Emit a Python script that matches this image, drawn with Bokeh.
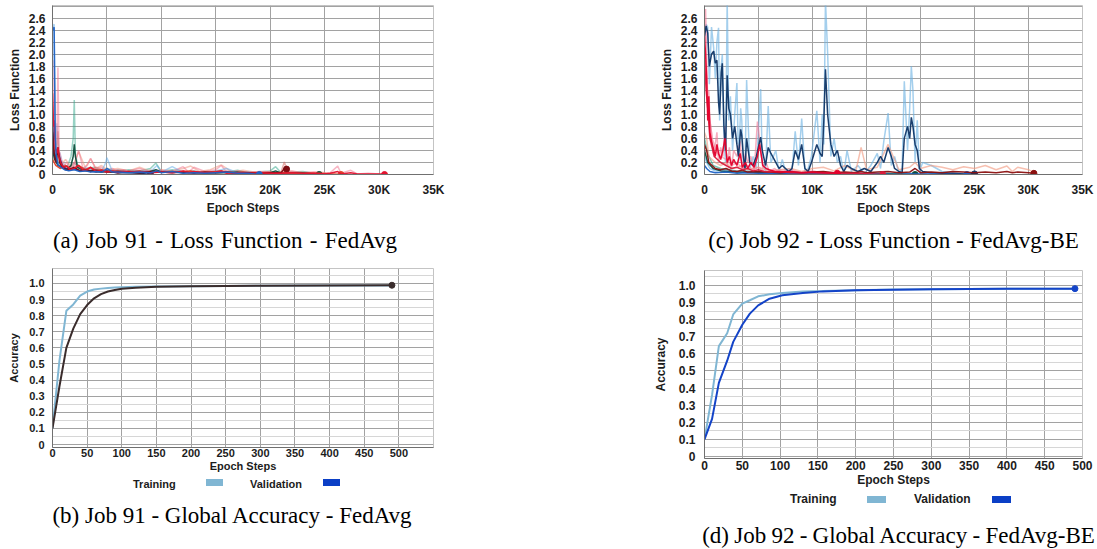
from bokeh.plotting import figure
from bokeh.layouts import row, column
from bokeh.models import Div, Spacer, Range1d, FixedTicker, CustomJSTickFormatter
from bokeh.embed import file_html
from bokeh.resources import INLINE

SANS = "Liberation Sans"
SERIF = "Liberation Serif"

# ---------------- tick labels ----------------
LOSS_X_TICKS = [0, 5000, 10000, 15000, 20000, 25000, 30000, 35000]
LOSS_Y_TICKS = [0, 0.2, 0.4, 0.6, 0.8, 1.0, 1.2, 1.4, 1.6, 1.8, 2.0, 2.2, 2.4, 2.6]
LOSS_Y_GRID = LOSS_Y_TICKS + [2.8]
ACC_X_TICKS = [0, 50, 100, 150, 200, 250, 300, 350, 400, 450, 500]
ACC_X_GRID_B = ACC_X_TICKS + [550]
ACC_Y_TICKS = [0, 0.1, 0.2, 0.3, 0.4, 0.5, 0.6, 0.7, 0.8, 0.9, 1.0]
ACC_Y_MINOR = [0.05, 0.15, 0.25, 0.35, 0.45, 0.55, 0.65, 0.75, 0.85, 0.95, 1.05]

# ---------------- Job 91 loss (panel a) ----------------
A_RED_STEPS = [0, 100, 150, 250, 400, 500, 600, 800, 1000, 1300, 1600, 2000, 2400, 2800, 3200, 3500, 4000, 4500, 5000, 5500,
               6000, 6500, 7000, 8000, 9000, 10000, 11000, 12000, 12500, 13000, 14000, 15000, 15500, 16000, 17000, 18000,
               19000, 20000, 21000, 22000, 23000, 24000, 25000, 25500, 26200, 26500, 27400, 28000, 29000, 30000, 30500]
A_RED_RAW = [1.40, 1.00, 1.90, 0.60, 0.50, 1.78, 0.40, 0.25, 0.15, 0.20, 0.10, 0.15, 0.40, 0.10, 0.15, 0.27, 0.08, 0.12, 0.06, 0.10,
             0.05, 0.08, 0.06, 0.10, 0.04, 0.07, 0.05, 0.13, 0.04, 0.12, 0.05, 0.08, 0.15, 0.04, 0.06, 0.03, 0.05, 0.04, 0.03, 0.06,
             0.03, 0.04, 0.02, 0.03, 0.14, 0.02, 0.07, 0.01, 0.02, 0.01, 0.00]
A_RED_SMOOTH = [1.35, 0.80, 0.90, 0.45, 0.35, 0.45, 0.30, 0.18, 0.12, 0.14, 0.08, 0.10, 0.15, 0.07, 0.08, 0.12, 0.05, 0.07, 0.04, 0.06,
                0.03, 0.05, 0.04, 0.05, 0.03, 0.04, 0.03, 0.06, 0.03, 0.05, 0.03, 0.04, 0.06, 0.02, 0.03, 0.02, 0.03, 0.02, 0.02, 0.03,
                0.02, 0.02, 0.01, 0.02, 0.05, 0.01, 0.03, 0.01, 0.01, 0.01, 0.00]

A_BLUE_STEPS = [0, 150, 250, 350, 500, 800, 1100, 1500, 2000, 2500, 3000, 3500, 4000, 4500, 4900, 5000, 5500, 6000, 7000, 8000,
                9000, 9600, 10000, 11000, 12000, 13000, 14000, 15000, 16000, 17000, 18000, 19000]
A_BLUE_RAW = [2.45, 2.50, 0.80, 0.35, 0.20, 0.15, 0.10, 0.08, 0.12, 0.06, 0.10, 0.05, 0.08, 0.05, 0.20, 0.28, 0.05, 0.07, 0.04, 0.06,
              0.05, 0.15, 0.04, 0.13, 0.03, 0.05, 0.03, 0.06, 0.10, 0.03, 0.04, 0.00]
A_BLUE_SMOOTH = [2.40, 2.45, 0.60, 0.30, 0.16, 0.12, 0.08, 0.06, 0.08, 0.05, 0.06, 0.04, 0.05, 0.04, 0.08, 0.10, 0.04, 0.04, 0.03, 0.04,
                 0.03, 0.06, 0.03, 0.05, 0.02, 0.03, 0.02, 0.03, 0.04, 0.02, 0.02, 0.00]

A_NAVY_STEPS = [0, 100, 250, 400, 550, 700, 900, 1200, 1500, 2000, 2500, 3000, 4000, 5000, 6000, 7000, 8000, 9000]
A_NAVY_RAW = [1.00, 0.60, 0.30, 0.85, 0.40, 0.35, 0.20, 0.15, 0.10, 0.20, 0.08, 0.12, 0.06, 0.08, 0.05, 0.04, 0.03, 0.00]
A_NAVY_SMOOTH = [0.90, 0.40, 0.25, 0.38, 0.36, 0.25, 0.15, 0.10, 0.07, 0.10, 0.06, 0.07, 0.04, 0.05, 0.03, 0.03, 0.02, 0.00]

A_TEAL_STEPS = [0, 200, 500, 900, 1300, 1700, 1900, 2000, 2100, 2300, 2700, 3200, 3800, 4500, 5000, 6000, 7000, 8000, 9000, 9500,
                10000, 11000, 12000, 13000, 14000, 15000, 16000, 17000, 18000, 19000, 20000, 20500, 21000, 22000, 23000, 24000, 24500]
A_TEAL_RAW = [0.50, 0.30, 0.20, 0.15, 0.10, 0.30, 0.60, 1.24, 0.35, 0.15, 0.10, 0.08, 0.12, 0.06, 0.10, 0.05, 0.08, 0.06, 0.10, 0.19,
              0.05, 0.08, 0.04, 0.06, 0.03, 0.05, 0.04, 0.07, 0.03, 0.04, 0.06, 0.13, 0.03, 0.04, 0.05, 0.02, 0.00]
A_TEAL_SMOOTH = [0.40, 0.25, 0.15, 0.12, 0.08, 0.15, 0.30, 0.50, 0.30, 0.12, 0.08, 0.06, 0.07, 0.04, 0.06, 0.03, 0.05, 0.04, 0.05, 0.08,
                 0.04, 0.05, 0.03, 0.04, 0.02, 0.03, 0.03, 0.04, 0.02, 0.03, 0.03, 0.06, 0.02, 0.03, 0.03, 0.01, 0.00]

A_DARKRED_STEPS = [0, 150, 350, 500, 650, 900, 1200, 1600, 2000, 2500, 3000, 3500, 4000, 5000, 6000, 7000, 8000, 9000, 10000, 11000,
                   12000, 13000, 14000, 15000, 16000, 17000, 18000, 19000, 20000, 21000, 21300, 21500]
A_DARKRED_RAW = [0.80, 0.40, 0.25, 0.72, 0.20, 0.15, 0.10, 0.12, 0.20, 0.08, 0.10, 0.06, 0.12, 0.05, 0.08, 0.06, 0.04, 0.07, 0.05, 0.04,
                 0.06, 0.03, 0.05, 0.04, 0.06, 0.03, 0.04, 0.03, 0.05, 0.04, 0.21, 0.09]
A_DARKRED_SMOOTH = [0.70, 0.35, 0.20, 0.45, 0.20, 0.12, 0.08, 0.09, 0.12, 0.06, 0.07, 0.05, 0.07, 0.04, 0.05, 0.04, 0.03, 0.05, 0.04, 0.03,
                    0.04, 0.02, 0.04, 0.03, 0.04, 0.02, 0.03, 0.02, 0.03, 0.03, 0.10, 0.09]

A_SALMON_STEPS = [0, 300, 700, 1200, 1800, 2400, 3000, 3500, 4000, 4500, 5000, 6000, 7000, 8000, 9000, 10000, 11000, 12000, 12700, 13500,
                  14500, 15500, 16500, 17500, 18500, 19500, 20500, 21500, 22500, 23500, 24500, 25500, 26500]
A_SALMON_RAW = [0.30, 0.20, 0.15, 0.25, 0.10, 0.38, 0.12, 0.26, 0.10, 0.15, 0.08, 0.10, 0.06, 0.12, 0.05, 0.08, 0.06, 0.10, 0.14, 0.05,
                0.08, 0.16, 0.04, 0.07, 0.04, 0.05, 0.03, 0.06, 0.04, 0.03, 0.04, 0.02, 0.00]
A_SALMON_SMOOTH = [0.25, 0.15, 0.10, 0.15, 0.08, 0.15, 0.08, 0.12, 0.07, 0.08, 0.05, 0.06, 0.04, 0.06, 0.03, 0.05, 0.04, 0.05, 0.06, 0.03,
                   0.04, 0.06, 0.02, 0.04, 0.02, 0.03, 0.02, 0.03, 0.02, 0.02, 0.02, 0.01, 0.00]

# ---------------- Job 92 loss (panel c) ----------------
C_NAVY_STEPS = [0, 150, 300, 450, 650, 850, 1000, 1150, 1300, 1400, 1550, 1650, 1800, 1950, 2100, 2250, 2400, 2600, 2800, 3000,
                3150, 3350, 3450, 3600, 3750, 3900, 4200, 4500, 4800, 5200, 5350, 5650, 5900, 6150, 6600, 6900, 7200, 7500, 7800, 8100,
                8400, 8700, 9000, 9300, 9600, 9900, 10400, 10700, 10900, 11050, 11200, 11400, 11700, 12000, 12300, 12600, 12900, 13200,
                13600, 14200, 14800, 15400, 16000, 16300, 16600, 17000, 17300, 17600, 18000, 18300, 18500, 18800, 19000, 19150, 19300,
                19500, 19700, 19900, 20200, 21000, 22000, 23000, 24000, 25000]
C_NAVY_SMOOTH = [2.30, 2.47, 2.35, 1.80, 2.00, 2.05, 1.85, 1.90, 1.20, 1.00, 1.70, 1.85, 0.80, 0.40, 1.65, 1.10, 1.00, 0.60, 0.80, 0.50,
                 0.30, 0.75, 0.65, 0.30, 0.10, 0.60, 0.20, 0.15, 0.30, 0.62, 0.40, 0.15, 0.45, 0.35, 0.20, 0.10, 0.15, 0.10, 0.05, 0.10,
                 0.40, 0.25, 0.50, 0.10, 0.05, 0.20, 0.50, 0.35, 0.30, 0.90, 1.75, 1.00, 0.50, 0.30, 0.40, 0.15, 0.05, 0.15, 0.10, 0.05,
                 0.10, 0.05, 0.20, 0.30, 0.20, 0.45, 0.30, 0.10, 0.05, 0.03, 0.60, 0.80, 0.60, 0.95, 0.80, 0.50, 0.40, 0.10, 0.05, 0.03,
                 0.02, 0.02, 0.01, 0.01]
C_NAVY_RAW = [2.20, 2.50, 2.45, 1.50, 2.45, 2.10, 1.60, 2.20, 2.44, 0.90, 1.80, 2.00, 0.60, 0.20, 2.90, 0.90, 1.30, 0.40, 1.00, 1.52,
              0.20, 1.10, 0.90, 0.15, 0.05, 1.57, 0.10, 0.30, 0.10, 1.42, 0.20, 0.05, 1.14, 0.20, 0.40, 0.05, 0.25, 0.05, 0.10, 0.05,
              0.72, 0.15, 0.93, 0.05, 0.10, 0.30, 1.06, 0.20, 1.00, 0.50, 2.90, 2.03, 0.30, 0.60, 0.20, 0.30, 0.02, 0.40, 0.05, 0.15,
              0.02, 0.15, 0.35, 0.10, 0.55, 1.02, 0.15, 0.30, 0.02, 0.10, 1.55, 0.40, 1.10, 1.80, 1.40, 0.20, 0.90, 0.05, 0.20, 0.15,
              0.05, 0.03, 0.02, 0.01]

C_CRIMSON_STEPS = [0, 100, 200, 300, 400, 500, 650, 800, 1000, 1150, 1300, 1500, 1700, 1900, 2100, 2300, 2500, 2700, 3000, 3300,
                   3500, 3800, 4000, 4300, 4600, 4900, 5100, 5400, 5700, 6000, 6500, 7000, 8000, 9000, 10000, 11000, 12300]
C_CRIMSON_SMOOTH = [2.30, 2.00, 1.60, 0.90, 1.30, 0.70, 0.55, 0.45, 0.30, 0.50, 0.35, 0.25, 0.40, 0.60, 0.20, 0.30, 0.15, 0.25, 0.15, 0.35,
                    0.12, 0.20, 0.10, 0.20, 0.12, 0.30, 0.50, 0.15, 0.10, 0.08, 0.05, 0.04, 0.05, 0.03, 0.04, 0.03, 0.02]
C_CRIMSON_RAW = [2.20, 2.75, 1.90, 1.20, 1.40, 0.90, 0.70, 0.35, 0.50, 0.70, 0.20, 0.45, 0.30, 0.80, 0.15, 0.45, 0.10, 0.40, 0.30, 0.55,
                 0.08, 0.35, 0.20, 0.30, 0.05, 0.88, 0.60, 0.10, 0.20, 0.05, 0.10, 0.02, 0.08, 0.02, 0.06, 0.02, 0.01]

C_RED_STEPS = [0, 150, 300, 500, 700, 900, 1200, 1500, 2000, 2500, 3000, 3500, 4000, 4500, 5000, 5500, 6000, 7000, 8000, 10000,
               12000, 14000, 16500]
C_RED_SMOOTH = [1.90, 1.40, 1.10, 0.60, 0.45, 0.30, 0.25, 0.20, 0.15, 0.10, 0.12, 0.08, 0.10, 0.06, 0.08, 0.05, 0.04, 0.05, 0.03, 0.03,
                0.02, 0.02, 0.00]
C_RED_RAW = [2.00, 1.70, 1.30, 0.90, 0.60, 0.50, 0.35, 0.30, 0.25, 0.15, 0.20, 0.10, 0.15, 0.08, 0.12, 0.06, 0.05, 0.08, 0.04, 0.05,
             0.03, 0.03, 0.00]

C_DARKRED_STEPS = [0, 200, 400, 700, 1000, 1500, 2000, 2500, 3000, 3500, 4000, 5000, 6000, 7000, 8000, 9000, 10000, 11000, 12000, 13000,
                   14000, 14500, 15000, 16000, 17000, 18000, 19000, 19500, 20000, 21000, 22000, 23000, 24000, 25000, 26000, 27000,
                   28000, 28500, 29000, 30000, 30500]
C_DARKRED_SMOOTH = [0.50, 0.40, 0.20, 0.15, 0.10, 0.08, 0.10, 0.06, 0.05, 0.07, 0.04, 0.05, 0.04, 0.03, 0.04, 0.03, 0.04, 0.05, 0.03, 0.04,
                    0.03, 0.05, 0.03, 0.04, 0.05, 0.03, 0.04, 0.10, 0.03, 0.04, 0.03, 0.05, 0.04, 0.03, 0.04, 0.03, 0.05, 0.03, 0.04,
                    0.03, 0.02]
C_DARKRED_RAW = [0.70, 0.60, 0.30, 0.25, 0.20, 0.15, 0.20, 0.10, 0.12, 0.15, 0.08, 0.12, 0.06, 0.08, 0.10, 0.05, 0.10, 0.12, 0.06, 0.15,
                 0.05, 0.45, 0.08, 0.12, 0.50, 0.08, 0.12, 0.20, 0.10, 0.15, 0.12, 0.08, 0.13, 0.10, 0.15, 0.08, 0.14, 0.05, 0.12,
                 0.08, 0.03]

C_BLUE_STEPS = [0, 200, 500, 1000, 2000, 3000, 4000, 5000, 6000, 7000, 8000, 10000, 12000, 14000, 16000, 17400, 19000, 21000, 23000, 24300]
C_BLUE_SMOOTH = [0.15, 0.10, 0.05, 0.03, 0.04, 0.02, 0.03, 0.02, 0.02, 0.01, 0.02, 0.01, 0.02, 0.01, 0.01, 0.00, 0.01, 0.01, 0.00, 0.00]
C_BLUE_RAW = [0.30, 0.20, 0.10, 0.06, 0.08, 0.04, 0.05, 0.04, 0.03, 0.02, 0.04, 0.02, 0.03, 0.02, 0.02, 0.01, 0.02, 0.02, 0.01, 0.00]

C_TEAL_STEPS = [0, 300, 800, 1500, 3000, 5000, 8000, 11000, 14000, 17000, 19500]
C_TEAL_SMOOTH = [0.40, 0.20, 0.10, 0.06, 0.04, 0.03, 0.02, 0.02, 0.01, 0.01, 0.00]
C_TEAL_RAW = [0.60, 0.35, 0.15, 0.10, 0.06, 0.05, 0.03, 0.03, 0.02, 0.02, 0.00]

# ---------------- Global accuracy ----------------
B_STEPS = [0, 10, 20, 30, 40, 50, 60, 70, 80, 90, 100, 120, 150, 200, 250, 300, 400, 490]
B_TRAIN = [0.10, 0.52, 0.83, 0.87, 0.925, 0.95, 0.963, 0.968, 0.972, 0.975, 0.977, 0.979, 0.981, 0.983, 0.985, 0.986, 0.987, 0.988]
B_VALID = [0.10, 0.36, 0.60, 0.72, 0.81, 0.866, 0.908, 0.934, 0.95, 0.96, 0.967, 0.974, 0.979, 0.982, 0.984, 0.986, 0.988, 0.989]

D_STEPS = [0, 5, 10, 19, 30, 38, 50, 60, 71, 86, 103, 130, 156, 200, 250, 300, 400, 490]
D_TRAIN = [0.10, 0.23, 0.36, 0.645, 0.72, 0.83, 0.893, 0.913, 0.936, 0.948, 0.955, 0.965, 0.967, 0.972, 0.976, 0.978, 0.980, 0.981]
D_VALID = [0.10, 0.16, 0.22, 0.43, 0.56, 0.67, 0.77, 0.835, 0.883, 0.922, 0.942, 0.955, 0.965, 0.971, 0.975, 0.978, 0.980, 0.981]

CAPTIONS = ["(a) Job 91 - Loss Function - FedAvg",
            "(b) Job 91 - Global Accuracy - FedAvg",
            "(c) Job 92 - Loss Function - FedAvg-BE",
            "(d) Job 92 - Global Accuracy - FedAvg-BE"]
LEGEND_LABELS = ["Training", "Validation"]

TRAIN_COLOR = "#80b6d3"
VALID_COLOR = "#0b3fc6"

k_fmt = CustomJSTickFormatter(code="return Math.abs(tick) < 1e-9 ? '0' : Math.round(tick/1000) + 'K';")
d_fmt = CustomJSTickFormatter(code="return Math.abs(tick) < 1e-9 ? '0' : tick.toFixed(1);")
i_fmt = CustomJSTickFormatter(code="return Math.round(tick).toString();")


def make_fig(width, height, xr, yr, bl, br, bt, bb, fpx, xstand, xlstand, ystand, ylstand, xlabel, ylabel):
    p = figure(width=width, height=height, x_range=Range1d(*xr), y_range=Range1d(*yr),
               output_backend="svg", toolbar_location=None,
               min_border_left=bl, min_border_right=br, min_border_top=bt, min_border_bottom=bb)
    p.background_fill_color = "white"
    p.border_fill_color = "white"
    p.outline_line_color = "#c4c4c4"
    for ax in (p.xaxis[0], p.yaxis[0]):
        ax.axis_line_color = "#707070"
        ax.major_tick_line_color = None
        ax.minor_tick_line_color = None
        ax.major_tick_out = 0
        ax.major_tick_in = 0
        ax.minor_tick_out = 0
        ax.minor_tick_in = 0
        ax.major_label_text_font = SANS
        ax.major_label_text_font_style = "bold"
        ax.major_label_text_font_size = f"{fpx}px"
        ax.major_label_text_color = "#1c1c1c"
        ax.axis_label_text_font = SANS
        ax.axis_label_text_font_style = "bold"
        ax.axis_label_text_font_size = f"{fpx}px"
        ax.axis_label_text_color = "#1c1c1c"
    p.xaxis.axis_label = xlabel
    p.yaxis.axis_label = ylabel
    p.xaxis.major_label_standoff = xstand
    p.xaxis.axis_label_standoff = xlstand
    p.yaxis.major_label_standoff = ystand
    p.yaxis.axis_label_standoff = ylstand
    p.xgrid.grid_line_color = "#a2a2a2"
    p.ygrid.grid_line_color = "#a2a2a2"
    return p


def loss_fig(width, bl, br, series, raw_alpha):
    p = make_fig(width, 217, (0, 35000), (0, 2.81), bl, br, 5, 40, 12, 8, 1, 7, 4, "Epoch Steps", "Loss Function")
    p.xaxis.ticker = FixedTicker(ticks=LOSS_X_TICKS, minor_ticks=[])
    p.xaxis.formatter = k_fmt
    p.yaxis.ticker = FixedTicker(ticks=LOSS_Y_TICKS, minor_ticks=[])
    p.yaxis.formatter = d_fmt
    p.ygrid.ticker = FixedTicker(ticks=LOSS_Y_GRID, minor_ticks=[])
    for steps, raw, smooth, rc, sc in series:
        p.line(steps, raw, line_color=rc, line_alpha=raw_alpha, line_width=1.5)
    for steps, raw, smooth, rc, sc in series:
        p.line(steps, smooth, line_color=sc, line_alpha=0.95, line_width=1.5)
        p.scatter([steps[-1]], [smooth[-1]], size=6, color=sc)
    return p


def acc_fig(width, height, xend, yr, bl, br, fpx, xstand, ystand, ylstand, steps, train, valid, vcolor, grid_ticks):
    p = make_fig(width, height, (0, xend), yr, bl, br, 10, 30, fpx, xstand, 0, ystand, ylstand, "Epoch Steps", "Accuracy")
    p.xaxis.ticker = FixedTicker(ticks=ACC_X_TICKS, minor_ticks=[])
    p.xaxis.formatter = i_fmt
    p.xgrid.ticker = FixedTicker(ticks=grid_ticks, minor_ticks=[])
    p.yaxis.ticker = FixedTicker(ticks=ACC_Y_TICKS, minor_ticks=ACC_Y_MINOR)
    p.yaxis.formatter = d_fmt
    p.ygrid.minor_grid_line_color = "#d6d6d6"
    p.line(steps, train, line_color=TRAIN_COLOR, line_width=2)
    p.line(steps, valid, line_color=vcolor, line_width=2)
    p.scatter([steps[-1]], [valid[-1]], size=6, color=vcolor)
    return p


def caption_div(text, width, height, pad_top, pad_left, word_sp=0.0):
    html = (f'<div style="width:{width}px;height:{height}px;box-sizing:border-box;overflow:hidden;'
            f'padding-top:{pad_top}px;padding-left:{pad_left}px;text-align:center;word-spacing:{word_sp}px;'
            f'font-family:\'{SERIF}\';font-size:23px;line-height:26px;color:#000;white-space:nowrap">{text}</div>')
    return Div(text=html, width=width, height=height, margin=(0, 0, 0, 0))


def legend_div(width, height, fpx, t1, s1, t2, s2, sw_w, sw_top):
    def span(txt, left):
        return (f'<span style="position:absolute;left:{left}px;top:0;line-height:{height}px;font-family:\'{SANS}\';'
                f'font-weight:bold;font-size:{fpx}px;color:#1c1c1c;white-space:nowrap">{txt}</span>')

    def sw(left, color):
        return (f'<span style="position:absolute;left:{left}px;top:{sw_top}px;width:{sw_w}px;height:7px;'
                f'background:{color}"></span>')
    html = (f'<div style="position:relative;width:{width}px;height:{height}px">'
            + span(LEGEND_LABELS[0], t1) + sw(s1, TRAIN_COLOR) + span(LEGEND_LABELS[1], t2) + sw(s2, VALID_COLOR)
            + '</div>')
    return Div(text=html, width=width, height=height, margin=(0, 0, 0, 0))


series_a = [
    (A_TEAL_STEPS, A_TEAL_RAW, A_TEAL_SMOOTH, "#2fa58a", "#0d4f3c"),
    (A_SALMON_STEPS, A_SALMON_RAW, A_SALMON_SMOOTH, "#f0907a", "#e2402a"),
    (A_NAVY_STEPS, A_NAVY_RAW, A_NAVY_SMOOTH, "#8f9fd8", "#1a2f66"),
    (A_DARKRED_STEPS, A_DARKRED_RAW, A_DARKRED_SMOOTH, "#d4605a", "#7d0c12"),
    (A_RED_STEPS, A_RED_RAW, A_RED_SMOOTH, "#f2708c", "#e3122f"),
    (A_BLUE_STEPS, A_BLUE_RAW, A_BLUE_SMOOTH, "#5aa8e8", "#1f62c4"),
]
series_c = [
    (C_NAVY_STEPS, C_NAVY_RAW, C_NAVY_SMOOTH, "#6cb2e2", "#0f3566"),
    (C_TEAL_STEPS, C_TEAL_RAW, C_TEAL_SMOOTH, "#2fa58a", "#0d4f3c"),
    (C_BLUE_STEPS, C_BLUE_RAW, C_BLUE_SMOOTH, "#5aa8e8", "#1f62c4"),
    (C_DARKRED_STEPS, C_DARKRED_RAW, C_DARKRED_SMOOTH, "#f29a80", "#8b1010"),
    (C_RED_STEPS, C_RED_RAW, C_RED_SMOOTH, "#f08a9c", "#d81b3c"),
    (C_CRIMSON_STEPS, C_CRIMSON_RAW, C_CRIMSON_SMOOTH, "#f27a96", "#e4002b"),
]

# left column spans page x 0..450, right column 650..1097
pa = loss_fig(450, 49, 17, series_a, 0.5)
pc = loss_fig(447, 52, 15, series_c, 0.62)

pb = acc_fig(450, 219, 550, (-0.0186, 1.093), 52, 5, 11, 1, 8, 6, B_STEPS, B_TRAIN, B_VALID, "#3a2c2c", ACC_X_GRID_B)
pd = acc_fig(447, 229, 500, (-0.0116, 1.087), 54, 10, 12, 2, 9, 8, D_STEPS, D_TRAIN, D_VALID, "#1444c8", ACC_X_TICKS)

cap_a = caption_div(CAPTIONS[0], 450, 41, 11, 0, 1.5)
cap_b = caption_div(CAPTIONS[1], 450, 40, 12, 14)
cap_c = caption_div(CAPTIONS[2], 447, 43, 11, 40)
cap_d = caption_div(CAPTIONS[3], 447, 40, 14, 50, -0.5)

leg_b = legend_div(450, 14, 11, 133, 206, 250, 323, 17, 2)
leg_d = legend_div(447, 20, 12, 140, 217, 264, 342, 19, 7)

left = column(pa, cap_a, pb, leg_b, cap_b, margin=(0, 0, 0, 0))
right = column(pc, cap_c, pd, leg_d, cap_d, margin=(0, 0, 0, 0))
layout = row(left, Spacer(width=200, height=10, margin=(0, 0, 0, 0)), right, margin=(0, 0, 0, 0))

open("out.html", "w").write(file_html(layout, INLINE))
